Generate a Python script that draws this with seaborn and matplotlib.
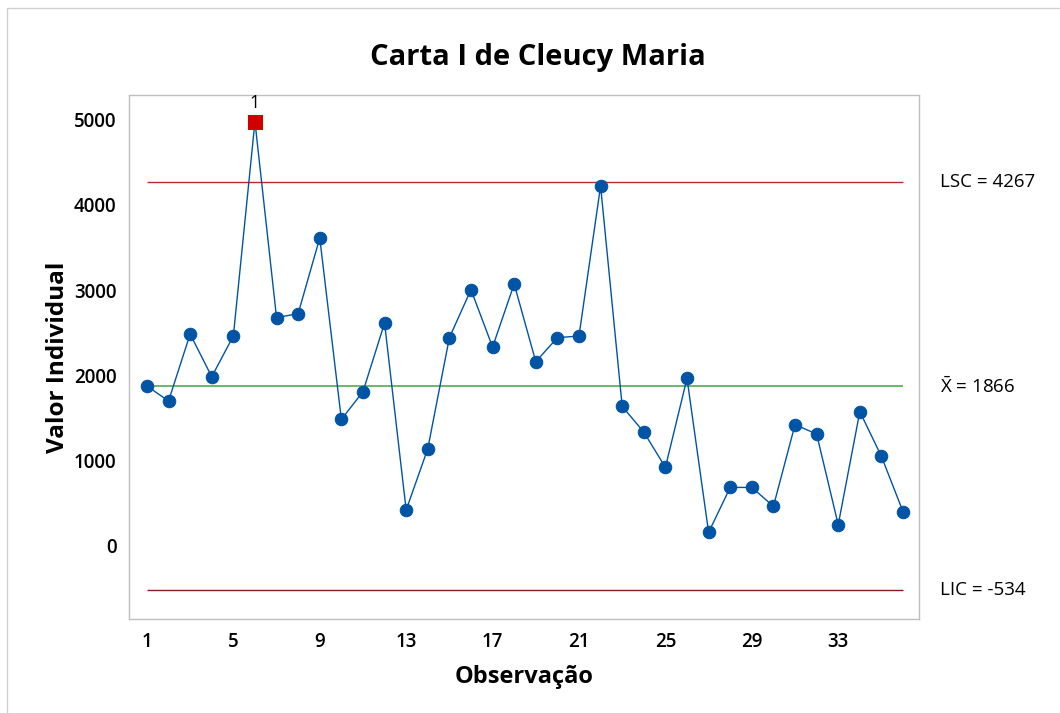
import matplotlib
matplotlib.use("Agg")
import matplotlib.pyplot as plt
import seaborn as sns
import pandas as pd
from matplotlib.lines import Line2D

sns.set_style("white")
plt.rcParams['font.family'] = ['Open Sans', 'DejaVu Sans']
plt.rcParams['mathtext.fontset'] = 'custom'
plt.rcParams['mathtext.rm'] = 'Open Sans'
plt.rcParams['text.color'] = 'black'
plt.rcParams['axes.labelcolor'] = 'black'
plt.rcParams['xtick.color'] = 'black'
plt.rcParams['ytick.color'] = 'black'

# Data
observacao = list(range(1, 37))
valores = [1871, 1694, 2482, 1980, 2459, 4980, 2675, 2722, 3612, 1478,
           1804, 2612, 412, 1133, 2439, 3004, 2329, 3071, 2157, 2439,
           2459, 4224, 1631, 1329, 914, 1961, 149, 678, 678, 455,
           1416, 1306, 239, 1569, 1043, 392]
lsc = 4267
media = 1866
lic = -534
xticks = [1, 5, 9, 13, 17, 21, 25, 29, 33]
yticks = [0, 1000, 2000, 3000, 4000, 5000]

df = pd.DataFrame({"obs": observacao, "valor": valores})
fora = df[df["valor"] > lsc]

blue = "#0054A6"

fig = plt.figure(figsize=(10.6, 7.13), dpi=100)
ax = fig.add_axes([0.1217, 0.1318, 0.7453, 0.735])

# control limits
ax.hlines(lsc, 1, 36, color="#C0282D", lw=1)
ax.hlines(media, 1, 36, color="#5DB35D", lw=1.3)
ax.hlines(lic, 1, 36, color="#8B1A1A", lw=1)

sns.lineplot(data=df, x="obs", y="valor", ax=ax, color=blue, lw=1,
             marker="o", markersize=9, markeredgecolor=blue, zorder=3)
sns.scatterplot(data=fora, x="obs", y="valor", ax=ax, color="#D00000",
                marker="s", s=95, edgecolor="#D00000", zorder=4)
for _, r in fora.iterrows():
    ax.text(r["obs"], r["valor"] + 110, "1", ha="center", va="bottom",
            fontsize=13)

ax.set_xlim(0.17, 36.74)
ax.set_ylim(-870, 5294)
ax.set_xticks(xticks)
ax.set_yticks(yticks)
ax.tick_params(axis="both", direction="out", length=6, color="#BFBFBF",
               labelsize=13.5, width=1, pad=3)
for lab in ax.get_xticklabels() + ax.get_yticklabels():
    lab.set_fontweight("semibold")
for s in ax.spines.values():
    s.set_color("#BFBFBF")
    s.set_linewidth(1)

ax.set_xlabel("Observação", fontsize=17, fontweight="bold", labelpad=10)
ax.set_ylabel("Valor Individual", fontsize=17.5, fontweight="bold", labelpad=3)
fig.text(538 / 1060, 1 - 58 / 713, "Carta I de Cleucy Maria", fontsize=21,
         fontweight="bold", ha="center", va="center")

tr = ax.get_yaxis_transform()
ax.text(1.027, lsc, "LSC = 4267", transform=tr, va="center", fontsize=13.5)
ax.text(1.027, media, r"$\bar{\mathrm{X}}$ = 1866", transform=tr, va="center", fontsize=13.5)
ax.text(1.027, lic, "LIC = -534", transform=tr, va="center", fontsize=13.5)

# light frame of the window
fig.add_artist(Line2D([7 / 1060, 7 / 1060], [0, 1 - 8 / 713], color="#D0D0D0", lw=1))
fig.add_artist(Line2D([7 / 1060, 1], [1 - 8 / 713, 1 - 8 / 713], color="#D0D0D0", lw=1))

fig.savefig("out.png", dpi=100)
